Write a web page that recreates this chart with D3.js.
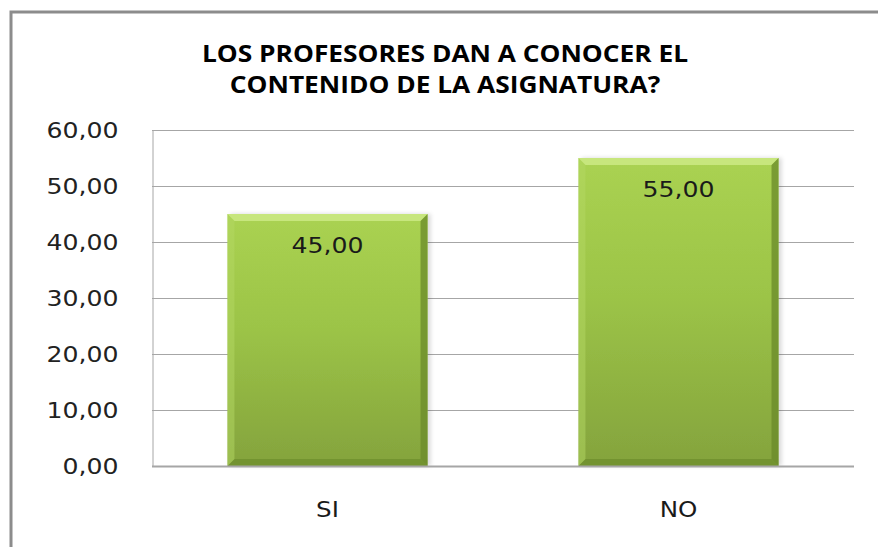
<!DOCTYPE html>
<html>
<head>
<meta charset="utf-8">
<script src="https://cdn.jsdelivr.net/npm/d3@7"></script>
<style>
  body { margin: 0; background: #fff; }
  svg { display: block; }
</style>
</head>
<body>
<div id="chart"></div>
<script>
// chart values
const categories = ['SI', 'NO'];
const values = [45, 55];
const yTicks = [0, 10, 20, 30, 40, 50, 60];
const titleLines = ['LOS PROFESORES DAN A CONOCER EL', 'CONTENIDO DE LA ASIGNATURA?'];

const width = 878;
const height = 547;
const plot = {left: 152, right: 854, top: 130, bottom: 466};
const sx = 1.17; // the original picture is stretched sideways a bit

const fmt = v => d3.format('.2f')(v).replace('.', ',');

const svg = d3.select('#chart').append('svg')
    .attr('width', width)
    .attr('height', height);

const defs = svg.append('defs');
const grad = defs.append('linearGradient')
    .attr('id', 'barGrad')
    .attr('x1', 0).attr('y1', 0).attr('x2', 0).attr('y2', 1);
grad.append('stop').attr('offset', '0%').attr('stop-color', '#aad252');
grad.append('stop').attr('offset', '45%').attr('stop-color', '#9cc447');
grad.append('stop').attr('offset', '100%').attr('stop-color', '#84a33d');

// faint shadow to the right of each bar
const shadow = defs.append('filter').attr('id', 'shadow')
    .attr('x', '-5%').attr('y', '-5%').attr('width', '115%').attr('height', '110%');
shadow.append('feDropShadow')
    .attr('dx', 3).attr('dy', 0).attr('stdDeviation', 2)
    .attr('flood-color', '#000').attr('flood-opacity', 0.15);

// outer frame (only top and left edges visible)
svg.append('path')
    .attr('d', `M11,${height} L11,12 L${width},12`)
    .attr('fill', 'none')
    .attr('stroke', '#8c8c8c')
    .attr('stroke-width', 3);

// stretched text helper
function stretchText(sel, xf, yf) {
    return sel.attr('transform', (d, i) => `translate(${xf(d, i)},${yf(d, i)}) scale(${sx},1)`);
}

// title
svg.append('g')
    .selectAll('text')
    .data(titleLines)
    .join('text')
    .call(stretchText, () => 445, (d, i) => 62 + i * 31)
    .attr('text-anchor', 'middle')
    .attr('font-family', '"Open Sans", sans-serif')
    .attr('font-weight', 'bold')
    .attr('font-size', 22.5)
    .attr('fill', '#000')
    .text(d => d);

const y = d3.scaleLinear()
    .domain([0, 60])
    .range([plot.bottom, plot.top]);

const x = d3.scaleBand()
    .domain(categories)
    .range([plot.left, plot.right])
    .paddingInner(0.43)
    .paddingOuter(0.215);

// gridlines
svg.append('g')
    .selectAll('line')
    .data(yTicks.filter(d => d > 0))
    .join('line')
    .attr('x1', plot.left)
    .attr('x2', plot.right)
    .attr('y1', d => Math.round(y(d)) + 0.5)
    .attr('y2', d => Math.round(y(d)) + 0.5)
    .attr('stroke', '#a6a6a6')
    .attr('stroke-width', 1);

// y axis
const yAxis = svg.append('g')
    .attr('transform', `translate(${plot.left + 0.5},0)`)
    .call(d3.axisLeft(y).tickValues(yTicks).tickFormat(fmt).tickSize(0));
yAxis.select('.domain').attr('stroke', '#a6a6a6');
yAxis.selectAll('.tick text')
    .attr('x', 0)
    .attr('transform', `translate(-34,1) scale(${sx},1)`)
    .attr('font-family', '"DejaVu Sans", sans-serif')
    .attr('font-size', 21.5)
    .attr('fill', '#222');

// bars
const bars = svg.append('g')
    .selectAll('g')
    .data(categories.map((c, i) => ({cat: c, value: values[i]})))
    .join('g');

bars.append('rect')
    .attr('x', d => x(d.cat))
    .attr('y', d => y(d.value))
    .attr('width', x.bandwidth())
    .attr('height', d => y(0) - y(d.value))
    .attr('fill', 'url(#barGrad)')
    .attr('filter', 'url(#shadow)');

// bevel edges
const bev = 7;
bars.append('path')
    .attr('d', d => {
        const x0 = x(d.cat), x1 = x0 + x.bandwidth(), y0 = y(d.value);
        return `M${x0},${y0} L${x1},${y0} L${x1 - bev},${y0 + bev} L${x0 + bev},${y0 + bev} Z`;
    })
    .attr('fill', '#cdea85')
    .attr('opacity', 0.85);
bars.append('path')
    .attr('d', d => {
        const x0 = x(d.cat), x1 = x0 + x.bandwidth(), y0 = y(d.value), y1 = y(0);
        return `M${x1},${y0} L${x1},${y1} L${x1 - bev},${y1 - bev} L${x1 - bev},${y0 + bev} Z`;
    })
    .attr('fill', '#6a8a2a')
    .attr('opacity', 0.75);
bars.append('path')
    .attr('d', d => {
        const x0 = x(d.cat), x1 = x0 + x.bandwidth(), y1 = y(0);
        return `M${x0},${y1} L${x1},${y1} L${x1 - bev},${y1 - bev} L${x0 + bev},${y1 - bev} Z`;
    })
    .attr('fill', '#6a8a2a')
    .attr('opacity', 0.65);
bars.append('path')
    .attr('d', d => {
        const x0 = x(d.cat), y0 = y(d.value), y1 = y(0);
        return `M${x0},${y0} L${x0 + bev},${y0 + bev} L${x0 + bev},${y1 - bev} L${x0},${y1} Z`;
    })
    .attr('fill', '#b3d864')
    .attr('opacity', 0.5);

// value labels
bars.append('text')
    .call(stretchText, d => x(d.cat) + x.bandwidth() / 2, d => y(d.value) + 39)
    .attr('text-anchor', 'middle')
    .attr('font-family', '"DejaVu Sans", sans-serif')
    .attr('font-size', 21.5)
    .attr('fill', '#1a1a1a')
    .text(d => fmt(d.value));

// x axis baseline
svg.append('line')
    .attr('x1', plot.left)
    .attr('x2', plot.right)
    .attr('y1', plot.bottom + 0.5)
    .attr('y2', plot.bottom + 0.5)
    .attr('stroke', '#a6a6a6')
    .attr('stroke-width', 2);

// category labels
svg.append('g')
    .selectAll('text')
    .data(categories)
    .join('text')
    .call(stretchText, d => x(d) + x.bandwidth() / 2, () => 517)
    .attr('text-anchor', 'middle')
    .attr('font-family', '"DejaVu Sans", sans-serif')
    .attr('font-size', 21)
    .attr('fill', '#1a1a1a')
    .text(d => d);
</script>
</body>
</html>
